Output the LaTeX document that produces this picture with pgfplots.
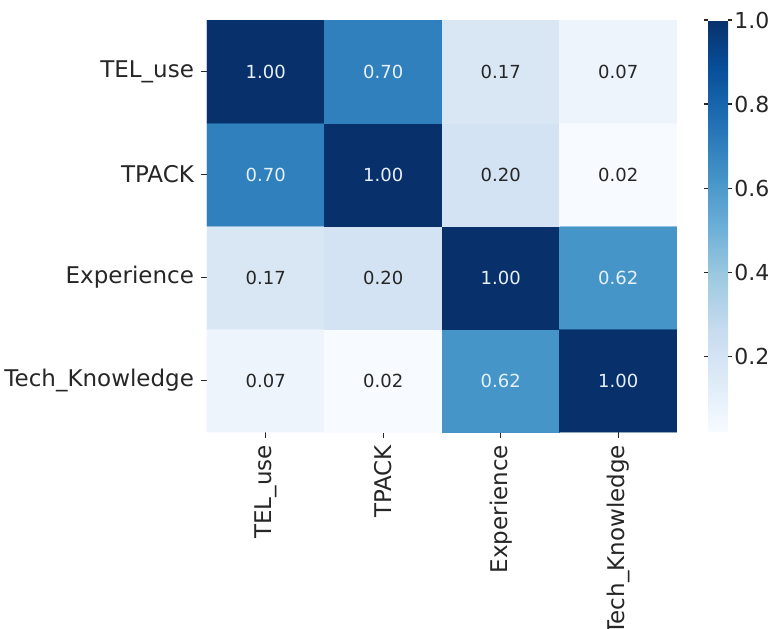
\documentclass[border=0pt]{standalone}
\usepackage{fontspec}
\setmainfont{DejaVu Sans}
\usepackage{pgfplots}
\pgfplotsset{compat=1.18}
\pgfplotsset{/pgf/number format/assume math mode=true}
\definecolor{txt}{HTML}{262626}
\definecolor{lighttxt}{HTML}{E6F0FA}
\begin{document}
\begin{tikzpicture}
\begin{axis}[
  name=ax,
  scale only axis, width=235pt, height=206pt,
  xmin=-0.5, xmax=3.5, ymin=-0.5, ymax=3.5,
  enlargelimits=false,
  axis line style={draw=none},
  xtick={0,1,2,3}, ytick={0,1,2,3},
  xticklabels={TEL\_use,TPACK,Experience,Tech\_Knowledge},
  yticklabels={Tech\_Knowledge,Experience,TPACK,TEL\_use},
  xticklabel style={rotate=90, anchor=east, font=\fontsize{11.5}{13}\selectfont, text=txt},
  yticklabel style={font=\fontsize{11.5}{13}\selectfont, text=txt},
  xtick pos=left, ytick pos=left,
  tick align=outside, major tick length=3pt,
  tick style={draw=txt, line width=0.6pt},
  colormap={blues}{rgb255=(247,251,255) rgb255=(222,235,247) rgb255=(198,219,239) rgb255=(158,202,225) rgb255=(107,174,214) rgb255=(66,146,198) rgb255=(33,113,181) rgb255=(8,81,156) rgb255=(8,48,107)},
  point meta min=0.02, point meta max=1.0,
  colorbar,
  colorbar style={
    width=10pt,
    at={(parent axis.north east)}, anchor=north west, xshift=7pt,
    ytick={0.2,0.4,0.6,0.8,1.0},
    yticklabel={\pgfmathprintnumber[fixed,fixed zerofill,precision=1,assume math mode=true]{\tick}},
    yticklabel style={font=\fontsize{11}{13}\selectfont, text=txt, inner sep=1pt},
    axis line style={draw=none},
    tick style={draw=txt, line width=0.6pt},
    major tick length=2pt, tick align=outside,
  },
]
\addplot[matrix plot*, mesh/cols=4, mesh/rows=4, point meta=explicit] table[meta=c]{
x y c
0 0 0.07
1 0 0.02
2 0 0.62
3 0 1.00
0 1 0.17
1 1 0.20
2 1 1.00
3 1 0.62
0 2 0.70
1 2 1.00
2 2 0.20
3 2 0.02
0 3 1.00
1 3 0.70
2 3 0.17
3 3 0.07
};
\addplot[only marks, mark=none, nodes near coords, point meta=explicit symbolic,
  every node near coord/.append style={anchor=center, font=\fontsize{9}{11}\selectfont, text=lighttxt}] table[meta=l]{
x y l
2 0 0.62
3 0 1.00
2 1 1.00
3 1 0.62
0 2 0.70
1 2 1.00
0 3 1.00
1 3 0.70
};
\addplot[only marks, mark=none, nodes near coords, point meta=explicit symbolic,
  every node near coord/.append style={anchor=center, font=\fontsize{9}{11}\selectfont, text=txt}] table[meta=l]{
x y l
0 0 0.07
1 0 0.02
0 1 0.17
1 1 0.20
2 2 0.20
3 2 0.02
2 3 0.17
3 3 0.07
};
\end{axis}
\pgfresetboundingbox
\path ([xshift=-103.5pt,yshift=-98pt]ax.south west) rectangle ([xshift=282.5pt,yshift=216pt]ax.south west);
\end{tikzpicture}
\end{document}
